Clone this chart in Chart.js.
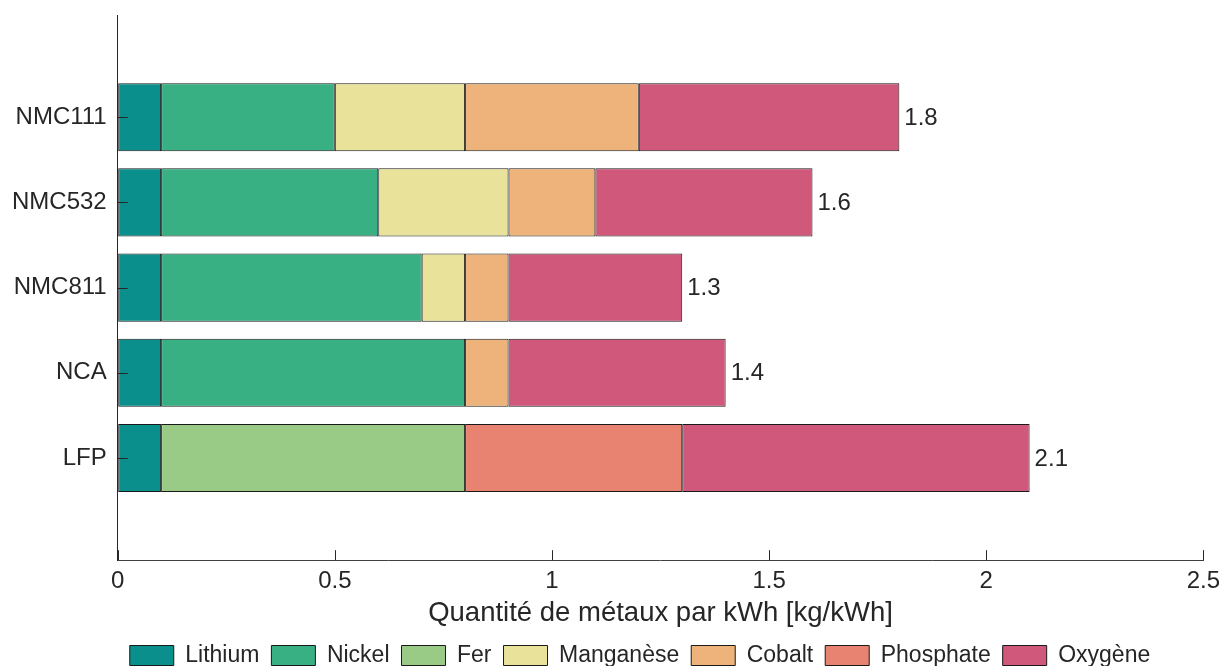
<!DOCTYPE html>
<html>
<head>
<meta charset="utf-8">
<script src="https://cdn.jsdelivr.net/npm/chart.js@4/dist/chart.umd.min.js"></script>
<style>
  html, body { margin: 0; padding: 0; background: #fff; }
  #wrap { width: 1227px; height: 666px; }
</style>
</head>
<body>
<div id="wrap"><canvas id="myChart" width="1227" height="666"></canvas></div>
<script>
// batteries, top to bottom
const categories = ['NMC111', 'NMC532', 'NMC811', 'NCA', 'LFP'];

// kg/kWh per metal, null = absent
const lithium   = [0.1, 0.1, 0.1, 0.1, 0.1];
const nickel    = [0.4, 0.5, 0.6, 0.7, null];
const fer       = [null, null, null, null, 0.7];
const manganese = [0.3, 0.3, 0.1, null, null];
const cobalt    = [0.4, 0.2, 0.1, 0.1, null];
const phosphate = [null, null, null, null, 0.5];
const oxygene   = [0.6, 0.5, 0.4, 0.5, 0.8];

const totals = [1.8, 1.6, 1.3, 1.4, 2.1];
const xTicks = [0, 0.5, 1, 1.5, 2, 2.5];

const series = [
  ['Lithium', lithium, '#0a8f8c'],
  ['Nickel', nickel, '#38b084'],
  ['Fer', fer, '#9acb86'],
  ['Manganèse', manganese, '#e8e29b'],
  ['Cobalt', cobalt, '#edb37b'],
  ['Phosphate', phosphate, '#e88371'],
  ['Oxygène', oxygene, '#cf587b'],
];

const textColor = '#262626';
const FONT = "'Liberation Sans', Arial, sans-serif";
Chart.defaults.font.family = FONT;
Chart.defaults.color = textColor;

const datasets = series.map(function(s) {
  const pts = [];
  s[1].forEach(function(v, i) {
    if (v !== null) pts.push({ x: v, y: i + 1 });
  });
  return {
    label: s[0],
    data: pts,
    backgroundColor: s[2],
    borderColor: '#1a1a1a',
    borderWidth: 1,
    borderSkipped: false,
    categoryPercentage: 1,
    barPercentage: 0.8
  };
});

// inward tick marks + totals at bar ends, legend nudged right
const extras = {
  id: 'extras',
  afterLayout(chart) {
    chart.legend.left += 26;
    chart.legend.right += 26;
  },
  afterDatasetsDraw(chart) {
    const ctx = chart.ctx;
    const xs = chart.scales.x, ys = chart.scales.y;
    ctx.save();
    ctx.strokeStyle = textColor;
    ctx.lineWidth = 1;
    ctx.beginPath();
    xTicks.forEach(function(t) {
      const px = Math.round(xs.getPixelForValue(t)) + 0.5;
      ctx.moveTo(px, ys.bottom);
      ctx.lineTo(px, ys.bottom - 10);
    });
    categories.forEach(function(c, i) {
      const py = Math.round(ys.getPixelForValue(i + 1)) + 0.5;
      ctx.moveTo(xs.left, py);
      ctx.lineTo(xs.left + 10, py);
    });
    ctx.stroke();

    ctx.fillStyle = textColor;
    ctx.font = '24px ' + FONT;
    ctx.textAlign = 'left';
    ctx.textBaseline = 'middle';
    totals.forEach(function(t, i) {
      ctx.fillText(String(t), xs.getPixelForValue(t) + 5, ys.getPixelForValue(i + 1) + 1);
    });
    ctx.restore();
  }
};

const config = {
  type: 'bar',
  data: { datasets: datasets },
  options: {
    indexAxis: 'y',
    responsive: false,
    animation: false,
    layout: { padding: { top: 15, right: 0, left: 1, bottom: -11 } },
    scales: {
      x: {
        type: 'linear',
        stacked: true,
        min: 0,
        max: 2.5,
        afterBuildTicks: function(scale) {
          scale.ticks = xTicks.map(function(v) { return { value: v }; });
        },
        ticks: {
          font: { size: 24 },
          color: textColor,
          padding: 7,
          maxRotation: 0,
          callback: function(v) { return String(v); }
        },
        grid: { display: true, drawOnChartArea: false, drawTicks: false },
        border: { display: true, color: '#404040', width: 1 },
        title: {
          display: true,
          text: 'Quantité de métaux par kWh [kg/kWh]',
          font: { size: 27.5 },
          color: textColor,
          padding: { top: -6, bottom: 2 }
        }
      },
      y: {
        type: 'linear',
        stacked: true,
        reverse: true,
        offset: false,
        min: -0.2,
        max: 6.2,
        afterBuildTicks: function(scale) {
          scale.ticks = categories.map(function(c, i) { return { value: i + 1 }; });
        },
        afterFit: function(scale) {
          scale.paddingTop = 0;
          scale.paddingBottom = 0;
        },
        ticks: {
          font: { size: 24 },
          color: textColor,
          padding: 11,
          callback: function(v) { return categories[v - 1] || ''; }
        },
        grid: { display: true, drawOnChartArea: false, drawTicks: false },
        border: { display: true, color: textColor, width: 1 }
      }
    },
    plugins: {
      legend: {
        position: 'bottom',
        labels: {
          boxWidth: 44,
          boxHeight: 20,
          padding: 12,
          font: { size: 23 },
          color: textColor
        }
      },
      tooltip: { enabled: false }
    }
  },
  plugins: [extras]
};

var myChart = new Chart(document.getElementById('myChart'), config);
</script>
</body>
</html>
